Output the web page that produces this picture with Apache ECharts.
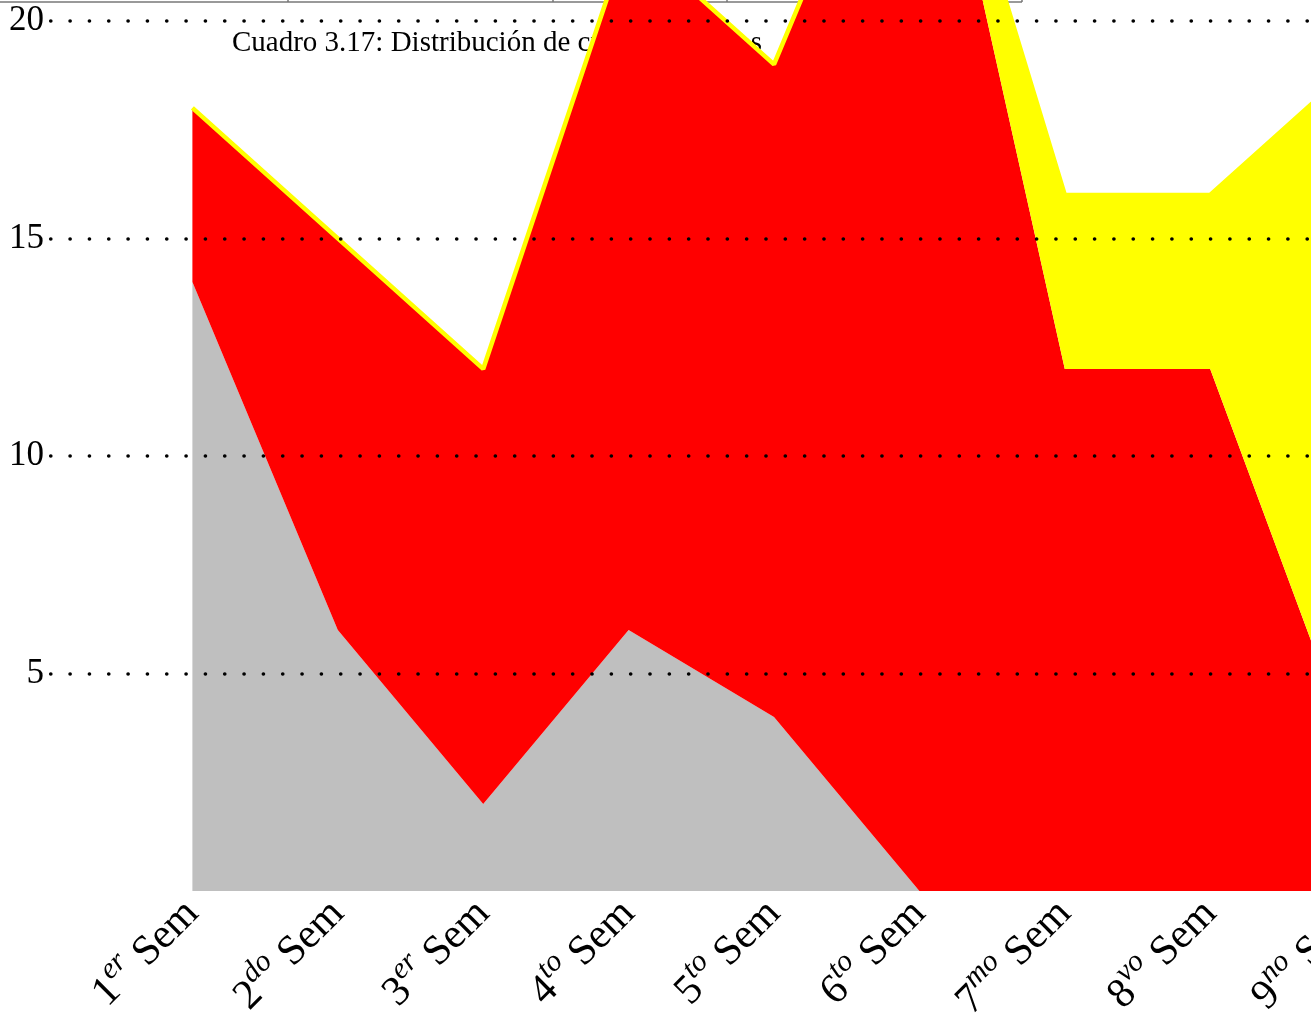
<!DOCTYPE html>
<html>
<head>
<meta charset="utf-8">
<script src="https://cdn.jsdelivr.net/npm/echarts@6/dist/echarts.min.js"></script>
<style>
  html, body { margin: 0; padding: 0; background: #fff; }
  #chart { width: 1311px; height: 1023px; }
</style>
</head>
<body>
<div id="chart"></div>
<script>
// semestres (eje x)
var semNumeros = ['1', '2', '3', '4', '5', '6', '7', '8', '9'];
var semSufijos = ['er', 'do', 'er', 'to', 'to', 'to', 'mo', 'vo', 'no'];
// series apiladas
var grisDatos = [14, 6, 2, 6, 4, 0, 0, 0, 0];
var rojoDatos = [4, 9, 10, 16, 15, 27, 12, 12, 3];
var amarilloDatos = [0, 0, 0, 0, 0, 0, 4, 4, 16];
// marcas del eje y
var yMarcas = [5, 10, 15, 20];

var fuente = '"Liberation Serif", "DejaVu Serif", serif';

// el eje empieza un semestre antes (hueco a la izquierda) y sigue uno despues
var categorias = [''].concat(semNumeros.map(function (n, i) {
  return '{n|' + n + '}{s|' + semSufijos[i] + '}{n| Sem}';
})).concat(['']);

function relleno(arr) {
  return [null].concat(arr).concat([null]);
}

function serieArea(nombre, datos, color, ancho) {
  return {
    name: nombre,
    type: 'line',
    stack: 'total',
    data: relleno(datos),
    symbol: 'none',
    showSymbol: false,
    lineStyle: { width: ancho, color: color },
    itemStyle: { color: color },
    areaStyle: { color: color, opacity: 1 }
  };
}

var chart = echarts.init(document.getElementById('chart'), null, { renderer: 'canvas' });

var option = {
  animation: false,
  backgroundColor: '#fff',
  grid: { left: 47, top: 0, width: 1454, bottom: 132, containLabel: false, outerBoundsMode: 'none' },
  graphic: [
    // restos de la tabla de arriba
    { type: 'line', z: 0, shape: { x1: 0, y1: 2, x2: 1022, y2: 2 }, style: { stroke: '#777', lineWidth: 1.5 } },
    { type: 'line', z: 0, shape: { x1: 288, y1: 0, x2: 288, y2: 2 }, style: { stroke: '#777', lineWidth: 1.5 } },
    { type: 'line', z: 0, shape: { x1: 553, y1: 0, x2: 553, y2: 2 }, style: { stroke: '#777', lineWidth: 1.5 } },
    { type: 'line', z: 0, shape: { x1: 727, y1: 0, x2: 727, y2: 2 }, style: { stroke: '#777', lineWidth: 1.5 } },
    { type: 'line', z: 0, shape: { x1: 1022, y1: 0, x2: 1022, y2: 2 }, style: { stroke: '#777', lineWidth: 1.5 } },
    {
      type: 'text', z: 0, x: 232, y: 43,
      style: {
        text: 'Cuadro 3.17: Distribución de cursos electivos',
        fontSize: 29, fontFamily: fuente, fill: '#000', verticalAlign: 'middle'
      }
    }
  ],
  xAxis: {
    type: 'category',
    data: categorias,
    boundaryGap: false,
    axisLine: { show: false },
    axisTick: { show: false },
    splitLine: { show: false },
    axisLabel: {
      interval: 0,
      rotate: 45,
      margin: 16,
      color: '#000',
      rich: {
        n: { fontSize: 42, fontFamily: fuente, color: '#000', lineHeight: 58 },
        s: { fontSize: 30, fontFamily: fuente, fontStyle: 'italic', color: '#000', lineHeight: 30, verticalAlign: 'top' }
      }
    }
  },
  yAxis: {
    type: 'value',
    min: 0,
    max: 20.48,
    interval: 5,
    z: 10,
    axisLine: { show: false },
    axisTick: { show: false },
    axisLabel: {
      margin: 3,
      fontSize: 35,
      fontFamily: fuente,
      color: '#000',
      formatter: function (v) { return yMarcas.indexOf(v) >= 0 ? String(v) : ''; }
    },
    splitLine: {
      show: true,
      showMinLine: false,
      showMaxLine: false,
      lineStyle: { color: '#000', width: 3.6, type: [0.1, 19.23], cap: 'round', dashOffset: 15.6 }
    }
  },
  series: [
    serieArea('gris', grisDatos, '#bfbfbf', 0),
    serieArea('rojo', rojoDatos, '#ff0000', 0),
    serieArea('amarillo', amarilloDatos, '#ffff00', 4.5)
  ]
};

chart.setOption(option);
</script>
</body>
</html>
